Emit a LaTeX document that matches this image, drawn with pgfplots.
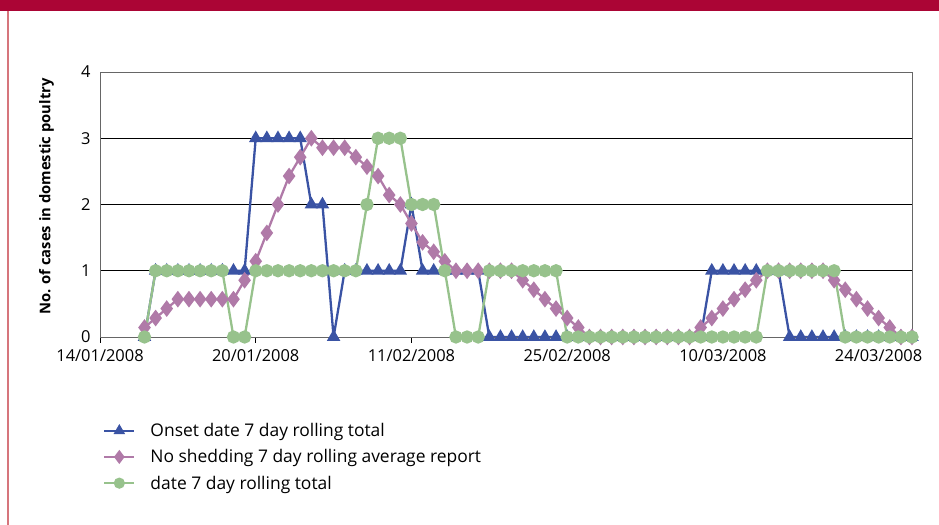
\documentclass[border=0pt]{standalone}
\usepackage{pgfplots}
\pgfplotsset{compat=1.18}
\usepackage{pgfplotstable}
\usepackage{fontspec}
\setmainfont{Open Sans}
\definecolor{cblue}{HTML}{3A53A4}
\definecolor{cpurple}{HTML}{B07AA8}
\definecolor{cgreen}{HTML}{97C28C}
\definecolor{cbar}{HTML}{AB0535}
\definecolor{cline}{HTML}{D6757C}
\pgfplotstableread{
i b p g
4 0 0.143 0
5 1 0.286 1
6 1 0.429 1
7 1 0.571 1
8 1 0.571 1
9 1 0.571 1
10 1 0.571 1
11 1 0.571 1
12 1 0.571 0
13 1 0.857 0
14 3 1.143 1
15 3 1.571 1
16 3 2.0 1
17 3 2.429 1
18 3 2.714 1
19 2 3.0 1
20 2 2.857 1
21 0 2.857 1
22 1 2.857 1
23 1 2.714 1
24 1 2.571 2
25 1 2.429 3
26 1 2.143 3
27 1 2.0 3
28 2 1.714 2
29 1 1.429 2
30 1 1.286 2
31 1 1.143 1
32 1 1.0 0
33 1 1.0 0
34 1 1.0 0
35 0 1.0 1
36 0 1.0 1
37 0 1.0 1
38 0 0.857 1
39 0 0.714 1
40 0 0.571 1
41 0 0.429 1
42 0 0.286 0
43 0 0.143 0
44 0 0 0
45 0 0 0
46 0 0 0
47 0 0 0
48 0 0 0
49 0 0 0
50 0 0 0
51 0 0 0
52 0 0 0
53 0 0 0
54 0 0.143 0
55 1 0.286 0
56 1 0.429 0
57 1 0.571 0
58 1 0.714 0
59 1 0.857 0
60 1 1.0 1
61 1 1.0 1
62 0 1.0 1
63 0 1.0 1
64 0 1.0 1
65 0 1.0 1
66 0 0.857 1
67 0 0.714 0
68 0 0.571 0
69 0 0.429 0
70 0 0.286 0
71 0 0.143 0
72 0 0 0
73 0 0 0
}\data
\begin{document}
\begin{tikzpicture}
\useasboundingbox (0bp,0bp) rectangle (939bp,525bp);
\fill[cbar] (0bp,514bp) rectangle (939bp,525bp);
\draw[cline, line width=1.5bp] (8bp,0bp) -- (8bp,514bp);
\begin{axis}[
  at={(100bp,188bp)}, anchor=south west, scale only axis,
  width=812bp, height=265bp,
  xmin=0, xmax=73, ymin=0, ymax=4,
  xtick={0,14,28,42,56,70},
  xticklabels={14/01/2008,20/01/2008,11/02/2008,25/02/2008,10/03/2008,24/03/2008},
  ytick={0,1,2,3,4},
  xtick pos=bottom, ytick pos=left,
  ymajorgrids, grid style={black, line width=0.8bp},
  axis line style={black!60, line width=0.8bp},
  xtick style={black, line width=0.8bp},
  ytick style={draw=none},
  tick align=outside, major tick length=6bp,
  tick label style={font=\fontsize{16.5}{18}\selectfont, text=black},
  xticklabel style={yshift=-3bp},
  /pgf/number format/assume math mode=true,
  ylabel={\bfseries No. of cases in domestic poultry},
  ylabel style={font=\fontsize{14.8}{16}\selectfont, text=black, at={(axis description cs:-0.066,0.53)}, anchor=center},
  legend style={draw=none, fill=none, at={(axis description cs:0,-0.31)}, anchor=north west,
    font=\fontsize{17.5}{20}\selectfont, row sep=7.5bp, /tikz/every odd column/.append style={column sep=13bp}},
  legend cell align=left,
  legend image code/.code={\draw[mark repeat=2,mark phase=2,#1,every mark/.append style={scale=0.8}] plot coordinates {(0bp,0bp) (15bp,0bp) (30bp,0bp)};},
]
\addplot[cblue, line width=2.3bp, mark=triangle*, mark size=5.5bp, mark options={solid}] table[x=i,y=b] {\data};
\addlegendentry{Onset date 7 day rolling total}
\addplot[cpurple, line width=2.3bp, mark=diamond*, mark size=6.5bp, mark options={solid}] table[x=i,y=p] {\data};
\addlegendentry{No shedding 7 day rolling average report}
\addplot[cgreen, line width=2.3bp, mark=*, mark size=5.5bp, mark options={solid}] table[x=i,y=g] {\data};
\addlegendentry{date 7 day rolling total}
\end{axis}
\end{tikzpicture}
\end{document}
